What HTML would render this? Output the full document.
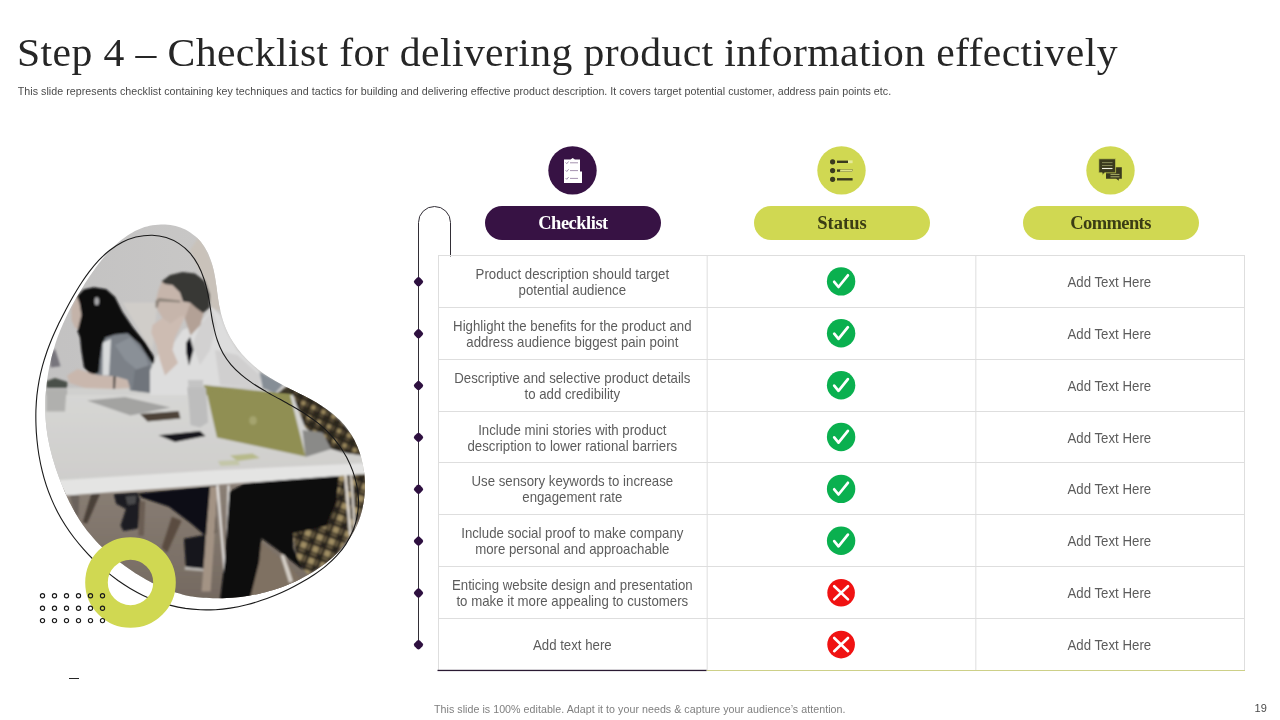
<!DOCTYPE html>
<html lang="en"><head><meta charset="utf-8"><title>Step 4 – Checklist for delivering product information effectively</title>
<style>
html,body{margin:0;padding:0;background:#fff;}
body{width:1280px;height:720px;position:relative;overflow:hidden;font-family:"Liberation Sans",Arial,sans-serif;}
.abs{position:absolute;}
#title{left:17px;top:28.8px;font-family:"Liberation Serif","DejaVu Serif",serif;font-size:39.5px;line-height:48px;color:#262626;white-space:nowrap;letter-spacing:0.37px;transform:scaleX(1.055);transform-origin:0 0;}
#sub{left:17.8px;top:84px;font-size:10.67px;line-height:14px;color:#4a4a4a;white-space:nowrap;letter-spacing:0.04px;}
.pill{height:34px;border-radius:17px;width:176px;top:206px;text-align:center;font-family:"Liberation Serif","DejaVu Serif",serif;font-weight:bold;font-size:18.5px;line-height:35px;letter-spacing:0;}
.c{font-size:14.3px;line-height:16px;color:#5c5c5c;text-align:center;white-space:nowrap;letter-spacing:0;transform:scaleX(0.926);transform-origin:50% 50%;}
#foot{left:434px;top:702px;font-size:10.67px;line-height:14px;color:#7f7f7f;white-space:nowrap;letter-spacing:0.04px;}
#pn{left:1254.6px;top:701.2px;font-size:11px;line-height:14px;color:#4a4a4a;white-space:nowrap;}
svg{position:absolute;left:0;top:0;}
</style></head><body>
<div id="title" class="abs">Step 4 – Checklist for delivering product information effectively</div>
<div id="sub" class="abs">This slide represents checklist containing key techniques and tactics for building and delivering effective product description. It covers target potential customer, address pain points etc.</div>
<svg width="1280" height="720" viewBox="0 0 1280 720">
<defs>
<clipPath id="blob"><path d="M165.1,224.4C169.0,224.5 172.2,225.1 175.6,226.0C178.9,226.8 182.0,227.9 185.3,229.6C188.7,231.4 192.7,234.2 195.6,236.6C198.4,239.0 200.5,241.5 202.5,244.2C204.6,247.0 206.2,249.7 207.9,253.1C209.5,256.6 211.2,261.3 212.3,265.0C213.4,268.7 214.0,271.9 214.7,275.4C215.4,278.9 215.8,282.2 216.4,286.1C216.9,289.9 217.5,294.9 218.1,298.7C218.7,302.6 219.2,305.7 220.0,309.1C220.7,312.5 221.4,315.6 222.6,319.2C223.7,322.9 225.4,327.4 227.0,330.9C228.5,334.4 230.1,337.1 231.8,340.1C233.6,343.1 235.4,345.8 237.8,348.9C240.1,351.9 243.4,355.7 246.0,358.5C248.7,361.4 251.1,363.5 253.7,365.8C256.4,368.1 258.9,370.1 262.0,372.4C265.1,374.6 269.3,377.3 272.5,379.3C275.8,381.3 278.6,382.8 281.7,384.5C284.8,386.2 287.6,387.6 291.1,389.4C294.5,391.1 299.0,393.3 302.4,395.1C305.9,396.8 308.8,398.3 311.9,400.0C315.0,401.7 317.8,403.3 321.1,405.4C324.3,407.5 328.4,410.3 331.4,412.7C334.4,415.1 336.8,417.2 339.2,419.6C341.7,422.1 343.8,424.3 346.1,427.3C348.5,430.4 351.2,434.4 353.1,437.7C355.0,440.9 356.3,443.8 357.6,447.0C358.9,450.3 360.0,453.2 361.0,457.0C362.0,460.7 363.1,465.6 363.7,469.5C364.3,473.4 364.6,476.6 364.8,480.2C364.9,483.7 365.0,487.0 364.8,490.9C364.6,494.8 364.1,499.8 363.4,503.6C362.8,507.4 362.1,510.4 361.1,513.8C360.2,517.1 359.2,520.1 357.7,523.5C356.2,527.0 354.0,531.3 352.1,534.6C350.1,537.8 348.3,540.4 346.2,543.1C344.0,545.8 342.0,548.3 339.3,551.0C336.6,553.8 332.9,557.2 329.9,559.7C327.0,562.3 324.4,564.2 321.4,566.3C318.5,568.4 315.8,570.2 312.5,572.3C309.1,574.3 304.8,576.7 301.4,578.5C297.9,580.3 295.0,581.6 291.9,583.0C288.7,584.4 285.8,585.6 282.2,586.9C278.6,588.2 274.0,589.7 270.3,590.8C266.7,591.9 263.7,592.6 260.3,593.4C256.9,594.1 253.8,594.8 250.0,595.4C246.1,596.0 241.2,596.7 237.3,597.2C233.5,597.6 230.2,597.9 226.7,598.1C223.1,598.2 219.9,598.4 216.0,598.3C212.0,598.3 207.1,598.1 203.2,597.8C199.3,597.5 196.2,597.1 192.7,596.5C189.3,596.0 186.2,595.4 182.5,594.4C178.8,593.5 174.2,592.1 170.6,590.8C167.0,589.6 164.1,588.4 160.9,587.0C157.8,585.6 154.9,584.2 151.5,582.4C148.1,580.6 143.8,578.2 140.5,576.2C137.1,574.2 134.4,572.4 131.5,570.4C128.5,568.4 125.9,566.6 122.7,564.3C119.6,562.0 115.6,558.9 112.6,556.5C109.6,554.0 107.2,551.9 104.6,549.5C102.0,547.2 99.7,545.0 97.1,542.2C94.5,539.4 91.3,535.8 88.9,532.8C86.4,529.9 84.6,527.3 82.6,524.5C80.6,521.6 78.9,519.0 76.9,515.6C75.0,512.3 72.6,508.0 70.8,504.5C69.0,501.1 67.7,498.2 66.2,494.9C64.7,491.7 63.5,488.8 62.0,485.1C60.6,481.5 58.8,476.9 57.5,473.2C56.2,469.6 55.2,466.5 54.2,463.2C53.1,459.8 52.2,456.8 51.3,453.1C50.3,449.4 49.2,444.6 48.5,440.8C47.7,437.1 47.3,434.0 46.8,430.5C46.3,427.0 46.0,423.9 45.7,420.1C45.5,416.2 45.3,411.3 45.3,407.4C45.2,403.5 45.4,400.3 45.5,396.8C45.7,393.2 46.0,390.0 46.4,386.2C46.8,382.3 47.5,377.4 48.1,373.6C48.8,369.7 49.4,366.6 50.2,363.2C50.9,359.8 51.6,356.7 52.7,353.0C53.7,349.3 55.1,344.6 56.3,341.0C57.6,337.3 58.7,334.4 60.0,331.1C61.2,327.9 62.5,325.0 64.1,321.5C65.7,318.0 67.8,313.5 69.6,310.0C71.3,306.6 72.9,303.8 74.6,300.7C76.3,297.6 77.9,294.8 80.0,291.5C82.0,288.2 84.6,284.0 86.7,280.7C88.8,277.5 90.6,274.9 92.6,272.0C94.7,269.1 96.5,266.6 98.8,263.5C101.2,260.5 104.2,256.7 106.8,253.8C109.3,250.9 111.5,248.7 114.0,246.3C116.5,243.9 118.8,241.7 121.9,239.4C125.0,237.1 129.1,234.3 132.5,232.4C135.9,230.5 138.8,229.2 142.1,228.0C145.5,226.8 148.6,225.9 152.4,225.3C156.2,224.7 161.3,224.3 165.1,224.4Z"/></clipPath>
<filter id="b2" x="-20%" y="-20%" width="140%" height="140%"><feGaussianBlur stdDeviation="4"/></filter>
<filter id="b1" x="-20%" y="-20%" width="140%" height="140%"><feGaussianBlur stdDeviation="0.6"/></filter>
<linearGradient id="wall" x1="0" y1="0" x2="1" y2="0"><stop offset="0" stop-color="#c2c1c1"/><stop offset="0.5" stop-color="#c8c7c6"/><stop offset="1" stop-color="#cbc8c4"/></linearGradient>
<linearGradient id="floor" x1="0" y1="0" x2="0" y2="1"><stop offset="0" stop-color="#8c8177"/><stop offset="1" stop-color="#72675e"/></linearGradient>
<linearGradient id="tbl" x1="0" y1="0" x2="0" y2="1"><stop offset="0" stop-color="#d6d6d4"/><stop offset="1" stop-color="#cecdcb"/></linearGradient>
<pattern id="plaid2" width="52" height="52" patternUnits="userSpaceOnUse" patternTransform="rotate(20)"><rect width="52" height="52" fill="#28221b"/><rect x="5" y="5" width="26" height="26" fill="#a08e64"/><rect x="36" y="5" width="11" height="26" fill="#6a5d42"/><rect x="5" y="36" width="26" height="11" fill="#6a5d42"/></pattern>
<pattern id="plaid" width="44" height="44" patternUnits="userSpaceOnUse" patternTransform="rotate(24)"><rect width="44" height="44" fill="#2b251d"/><rect x="6" y="6" width="18" height="18" fill="#9a875c"/><rect x="28" y="6" width="10" height="18" fill="#5a4e38"/><rect x="6" y="28" width="18" height="10" fill="#5a4e38"/></pattern>
</defs>
<g clip-path="url(#blob)">
<rect x="30" y="215" width="350" height="400" fill="url(#wall)"/>
<g transform="translate(40,220) scale(0.25)" filter="url(#b2)">
<!-- beige strip upper right -->
<path d="M640,60L700,200L730,360L690,360L660,250L600,120z" fill="#c9c2ba"/>
<!-- lighter wall between the two people -->
<path d="M330,330L470,330L450,520L420,480z" fill="#d0cdc9"/>
<path d="M40,540L60,515L82,585L42,590z" fill="#77747c"/>
<!-- table far part -->
<path d="M-40,672L700,672L1300,690V760H-40z" fill="#d0d0ce"/>
<!-- woman face -->
<path d="M125,355L150,300L175,300L170,440L140,432L126,400z" fill="#c4b3a9"/>
<!-- jacket -->
<path d="M215,480L290,452L350,452L400,497L445,560L452,610L440,692L360,682L350,640L300,625L225,622L212,560z" fill="#7b8188"/>
<path d="M300,500L360,470L420,540L440,600L400,610L340,560z" fill="#8a9097"/>
<path d="M380,600L440,580L440,690L370,682z" fill="#6f757c"/>
<path d="M252,490L284,476L276,622L250,622z" fill="#d8dadb"/>
<!-- woman hair -->
<path d="M148,305L175,278L215,269L265,277L300,308L330,368L372,430L422,490L456,548L460,588L440,560L400,498L350,453L300,458L262,470L248,500L240,560L236,610L206,622L176,590L165,520L160,470L150,445L166,380L158,332z" fill="#0c0c0e"/>
<ellipse cx="227" cy="325" rx="9" ry="16" fill="#a9a9ab"/>
<!-- woman arm -->
<path d="M108,622L150,596L225,620L300,626L350,640L360,672L300,676L180,672L118,652z" fill="#c9b7ad"/>
<path d="M294,625L302,625L300,675L293,675z" fill="#2a2a2a"/>
<!-- shirt -->
<path d="M440,602L470,540L530,500L570,440L640,410L690,350L722,380L750,450L790,520L850,580L892,620L892,672L660,662L650,760L440,760z" fill="#dddddd"/>
<path d="M640,420L690,360L705,420L680,520L640,580L610,500z" fill="#d2d1d1"/>
<path d="M700,520L790,540L880,620L880,670L720,660z" fill="#d0cfcf"/>
<!-- other person denim -->
<path d="M878,608L972,656L940,694L890,672z" fill="#868e96"/>
<!-- man neck -->
<path d="M575,380L600,330L655,368L642,420L602,462z" fill="#b3a196"/>
<!-- man face -->
<path d="M488,245L530,258L560,290L572,325L602,330L584,382L560,410L520,416L490,392L470,360L464,320L474,280z" fill="#c6b5ab"/>
<!-- man hair -->
<path d="M486,246L520,220L570,208L620,214L660,244L680,300L679,350L652,372L625,352L600,330L572,326L560,290L530,260L500,256z" fill="#383836"/>
<!-- glasses -->
<path d="M462,325L475,312L560,322L562,330L478,326L470,352L462,350z" fill="#8f857c"/>
<!-- hand/arm -->
<path d="M450,420L490,392L520,416L560,386L582,382L560,430L540,470L530,520L552,572L500,622L480,560L465,500L445,450z" fill="#cdbcb2"/>
<!-- tie -->
<path d="M584,492L600,468L614,520L596,582L585,532z" fill="#101012"/>
<!-- plaid top -->
<path d="M950,692L992,664L1120,740L960,740z" fill="#3a3428"/>
<!-- bottle -->
<path d="M592,640L652,640L655,760L596,760z" fill="#c4c4c4"/>
<!-- green laptop top -->
<path d="M655,660L1012,700L1020,760L665,760z" fill="#908f53"/>
<!-- plant -->
<path d="M25,645L60,632L110,648L108,672L25,672z" fill="#4a4f48"/>
<path d="M25,672L108,672L104,760L25,760z" fill="#b4b4b2"/>
<!-- gray laptop top part -->
<path d="M190,720L340,708L450,735L300,760z" fill="#a3a3a1"/>
</g>
<g transform="translate(40,390) scale(0.25)" filter="url(#b2)">
<!-- table surface -->
<path d="M-40,20H1320V300L100,385L-40,385z" fill="url(#tbl)"/>
<!-- under table floor -->
<path d="M-40,400L1320,320V900H-40z" fill="url(#floor)"/>
<!-- pot -->
<path d="M25,0L106,0L100,86L25,86z" fill="#b0b0ae"/>
<!-- gray laptop -->
<path d="M188,42L340,28L522,70L362,102z" fill="#a3a3a1"/>
<path d="M400,96L555,84L562,114L430,126z" fill="#4d4238"/>
<!-- phone -->
<path d="M474,181L640,164L662,184L540,208z" fill="#18181a"/>
<!-- bottle -->
<path d="M590,-10L664,-10L672,130L640,150L602,140z" fill="#bdbdbd"/>
<!-- sticky notes -->
<path d="M760,262L850,254L880,272L790,284z" fill="#b7ba8a"/>
<path d="M712,284L790,280L800,300L722,304z" fill="#c3c6a8"/>
<!-- plaid shirt -->
<path d="M1000,-10L1100,28L1200,118L1272,200L1290,262L1220,252L1165,236L1060,150z" fill="url(#plaid)"/>
<path d="M1050,160L1130,170L1165,236L1062,268z" fill="#8a8a88"/>
<!-- green laptop -->
<path d="M664,-4L1000,18L1062,266L708,190z" fill="#908f53"/>
<ellipse cx="852" cy="122" rx="15" ry="17" fill="#a5a46e"/>
</g>
<g transform="translate(60,465) scale(0.24219)" filter="url(#b2)">
<!-- floor darker lower -->
<!-- chair legs dark -->
<path d="M130,118L166,118L112,242L94,236z" fill="#4a3f37"/>
<path d="M40,125L80,122L76,215L60,200z" fill="#6b625b"/>
<!-- left person pants -->
<path d="M320,118L650,84L642,282L600,292L540,240L450,172L340,135z" fill="#101013"/>
<!-- shoe 1 -->
<path d="M222,120L320,114L332,150L322,262L262,272L250,250L272,182L232,160z" fill="#1d1d20"/>
<path d="M270,130L315,126L312,160L280,165z" fill="#4a4a4c"/>
<path d="M328,150L352,150L346,292L324,292z" fill="#6a5d52"/>
<!-- wooden chair leg -->
<path d="M462,214L502,230L442,362L420,342z" fill="#5a4c40"/>
<!-- shoe 2 -->
<path d="M512,305L600,288L602,432L520,422z" fill="#17171a"/>
<path d="M515,420L600,428L600,440L515,432z" fill="#b9b6b2"/>
<!-- light wood leg -->
<path d="M620,88L652,88L622,522L584,522z" fill="#a39384"/>
<!-- white thin legs -->
<path d="M645,84L656,84L686,452L676,452z" fill="#e2e0de"/>
<path d="M690,84L702,84L694,300L686,300z" fill="#d2d0ce"/>
<!-- floor between -->
<path d="M830,320L950,420L1010,490L780,548L810,400z" fill="#7f7162"/>
<path d="M910,372L926,370L962,480L946,486z" fill="#d4cec6"/>
<!-- plaid -->
<path d="M1150,38L1270,28L1262,150L1205,282L1122,392L1022,452L982,402L962,282L1100,250L1140,150z" fill="url(#plaid2)"/>
<!-- right person pants -->
<path d="M700,110L760,76L1152,38L1142,150L1102,252L962,282L962,342L1002,432L900,352L832,302L822,402L782,560L660,560L680,400L690,250z" fill="#0b0b0d"/>
<!-- white legs right -->
<path d="M1172,34L1184,34L1206,290L1194,292z" fill="#dcd6ce"/>
<path d="M1196,32L1206,32L1222,260L1212,262z" fill="#d0cac2"/>
<!-- table front edge -->
<path d="M-60,66L640,22L1300,-10V34L650,82L30,126L-60,130z" fill="#e4e4e3"/>
</g>
</g>
<path d="M152.2,235.2C157.2,235.3 161.7,236.1 166.2,237.5C170.6,238.9 175.0,241.0 179.0,243.6C182.9,246.1 186.6,249.3 189.8,252.9C193.0,256.5 195.8,260.7 198.1,265.0C200.5,269.4 202.4,274.2 204.0,279.0C205.6,283.9 206.8,289.1 207.9,294.1C209.0,299.2 209.7,304.5 210.6,309.5C211.4,314.6 212.0,319.4 213.2,324.5C214.3,329.7 215.7,335.7 217.4,340.5C219.0,345.3 220.8,349.2 223.0,353.2C225.3,357.2 227.9,361.0 230.9,364.6C233.9,368.1 237.4,371.5 241.1,374.6C244.8,377.8 248.8,380.7 253.0,383.6C257.2,386.4 261.7,389.0 266.1,391.6C270.5,394.2 275.1,396.6 279.6,399.1C284.1,401.6 288.6,404.0 292.9,406.5C297.3,409.0 301.3,411.3 305.6,414.2C310.0,417.1 315.0,420.7 319.0,423.9C322.9,427.2 326.2,430.2 329.5,433.7C332.8,437.1 335.9,440.8 338.7,444.7C341.6,448.7 344.2,452.9 346.6,457.2C348.9,461.6 351.0,466.2 352.7,470.9C354.4,475.6 355.9,480.6 356.8,485.5C357.8,490.4 358.4,495.5 358.5,500.4C358.6,505.4 358.2,510.4 357.4,515.2C356.6,520.0 355.5,524.5 353.6,529.3C351.6,534.1 348.7,539.7 345.9,544.1C343.1,548.5 340.2,552.0 336.8,555.6C333.5,559.3 329.8,562.6 326.0,565.8C322.2,569.0 318.1,571.9 314.0,574.7C309.9,577.5 305.6,580.1 301.2,582.5C296.9,585.0 292.5,587.3 288.1,589.4C283.6,591.6 279.1,593.6 274.6,595.4C270.0,597.3 265.5,599.0 260.8,600.5C256.2,602.1 251.8,603.5 246.7,604.7C241.6,606.0 235.4,607.3 230.2,608.1C225.0,608.9 220.3,609.4 215.4,609.7C210.4,609.9 205.4,610.0 200.4,609.8C195.4,609.5 190.4,609.1 185.4,608.4C180.5,607.6 175.6,606.6 170.8,605.4C166.0,604.2 161.3,602.7 156.6,601.1C152.0,599.4 147.5,597.5 143.1,595.4C138.7,593.3 134.4,591.0 130.2,588.5C126.1,586.0 122.3,583.5 118.0,580.5C113.8,577.4 108.8,573.5 104.8,570.1C100.7,566.7 97.3,563.5 93.8,560.0C90.2,556.5 86.8,552.9 83.5,549.1C80.2,545.4 77.0,541.5 73.9,537.5C70.9,533.5 68.0,529.4 65.3,525.2C62.7,521.1 60.1,516.8 57.8,512.4C55.5,508.1 53.4,503.6 51.5,499.1C49.6,494.6 47.8,490.1 46.3,485.4C44.8,480.8 43.5,476.5 42.3,471.4C41.0,466.3 39.8,460.2 38.9,455.0C38.0,449.8 37.5,445.2 37.0,440.3C36.5,435.3 36.1,430.4 36.0,425.4C35.8,420.4 35.8,415.4 35.9,410.4C36.1,405.4 36.4,400.3 36.9,395.4C37.5,390.4 38.2,385.5 39.1,380.6C40.0,375.7 41.1,370.9 42.4,366.1C43.7,361.3 45.2,356.7 46.8,352.0C48.4,347.4 50.1,343.2 52.1,338.3C54.1,333.5 56.8,327.8 59.0,323.1C61.3,318.4 63.4,314.4 65.7,310.0C68.0,305.7 70.4,301.3 72.8,297.1C75.3,292.8 77.8,288.5 80.5,284.3C83.3,280.1 86.0,275.9 89.1,271.9C92.1,268.0 95.3,264.0 98.7,260.4C102.2,256.8 105.9,253.3 109.8,250.3C113.7,247.3 117.9,244.5 122.2,242.3C126.6,240.1 130.9,238.2 135.8,237.0C140.8,235.9 147.1,235.1 152.2,235.2Z" fill="none" stroke="#1a1a1a" stroke-width="1.1"/>
<circle cx="130.5" cy="582.5" r="34" fill="none" stroke="#d0d852" stroke-width="22.6"/>
<circle cx="42.5" cy="595.7" r="2.1" fill="none" stroke="#1a1a1a" stroke-width="1.15"/>
<circle cx="54.5" cy="595.7" r="2.1" fill="none" stroke="#1a1a1a" stroke-width="1.15"/>
<circle cx="66.5" cy="595.7" r="2.1" fill="none" stroke="#1a1a1a" stroke-width="1.15"/>
<circle cx="78.5" cy="595.7" r="2.1" fill="none" stroke="#1a1a1a" stroke-width="1.15"/>
<circle cx="90.5" cy="595.7" r="2.1" fill="none" stroke="#1a1a1a" stroke-width="1.15"/>
<circle cx="102.5" cy="595.7" r="2.1" fill="none" stroke="#1a1a1a" stroke-width="1.15"/>
<circle cx="42.5" cy="608.2" r="2.1" fill="none" stroke="#1a1a1a" stroke-width="1.15"/>
<circle cx="54.5" cy="608.2" r="2.1" fill="none" stroke="#1a1a1a" stroke-width="1.15"/>
<circle cx="66.5" cy="608.2" r="2.1" fill="none" stroke="#1a1a1a" stroke-width="1.15"/>
<circle cx="78.5" cy="608.2" r="2.1" fill="none" stroke="#1a1a1a" stroke-width="1.15"/>
<circle cx="90.5" cy="608.2" r="2.1" fill="none" stroke="#1a1a1a" stroke-width="1.15"/>
<circle cx="102.5" cy="608.2" r="2.1" fill="none" stroke="#1a1a1a" stroke-width="1.15"/>
<circle cx="42.5" cy="620.6" r="2.1" fill="none" stroke="#1a1a1a" stroke-width="1.15"/>
<circle cx="54.5" cy="620.6" r="2.1" fill="none" stroke="#1a1a1a" stroke-width="1.15"/>
<circle cx="66.5" cy="620.6" r="2.1" fill="none" stroke="#1a1a1a" stroke-width="1.15"/>
<circle cx="78.5" cy="620.6" r="2.1" fill="none" stroke="#1a1a1a" stroke-width="1.15"/>
<circle cx="90.5" cy="620.6" r="2.1" fill="none" stroke="#1a1a1a" stroke-width="1.15"/>
<circle cx="102.5" cy="620.6" r="2.1" fill="none" stroke="#1a1a1a" stroke-width="1.15"/>
<rect x="69" y="678" width="10" height="1" fill="#262626"/>
<path d="M418.5,647V222.5a16,16 0 0 1 32,0V256.5" fill="none" stroke="#322e36" stroke-width="1"/>
<rect x="-3.9" y="-3.9" width="7.8" height="7.8" rx="2.2" fill="#2e1040" transform="translate(418.5 281.8) rotate(45)"/>
<rect x="-3.9" y="-3.9" width="7.8" height="7.8" rx="2.2" fill="#2e1040" transform="translate(418.5 333.7) rotate(45)"/>
<rect x="-3.9" y="-3.9" width="7.8" height="7.8" rx="2.2" fill="#2e1040" transform="translate(418.5 385.6) rotate(45)"/>
<rect x="-3.9" y="-3.9" width="7.8" height="7.8" rx="2.2" fill="#2e1040" transform="translate(418.5 437.4) rotate(45)"/>
<rect x="-3.9" y="-3.9" width="7.8" height="7.8" rx="2.2" fill="#2e1040" transform="translate(418.5 489.3) rotate(45)"/>
<rect x="-3.9" y="-3.9" width="7.8" height="7.8" rx="2.2" fill="#2e1040" transform="translate(418.5 541.1) rotate(45)"/>
<rect x="-3.9" y="-3.9" width="7.8" height="7.8" rx="2.2" fill="#2e1040" transform="translate(418.5 593.0) rotate(45)"/>
<rect x="-3.9" y="-3.9" width="7.8" height="7.8" rx="2.2" fill="#2e1040" transform="translate(418.5 644.8) rotate(45)"/>
<rect x="438.0" y="255" width="807.00" height="1" fill="#dedede"/>
<rect x="438.0" y="307" width="807.00" height="1" fill="#dedede"/>
<rect x="438.0" y="359" width="807.00" height="1" fill="#dedede"/>
<rect x="438.0" y="411" width="807.00" height="1" fill="#dedede"/>
<rect x="438.0" y="462" width="807.00" height="1" fill="#dedede"/>
<rect x="438.0" y="514" width="807.00" height="1" fill="#dedede"/>
<rect x="438.0" y="566" width="807.00" height="1" fill="#dedede"/>
<rect x="438.0" y="618" width="807.00" height="1" fill="#dedede"/>
<rect x="438.00" y="255.0" width="1" height="415.0" fill="#dedede"/>
<rect x="706.67" y="255.0" width="1" height="415.0" fill="#dedede"/>
<rect x="975.33" y="255.0" width="1" height="415.0" fill="#dedede"/>
<rect x="1244.00" y="255.0" width="1" height="415.0" fill="#dedede"/>
<rect x="437.5" y="669.8" width="269.17" height="1.3" fill="#2a1a33"/>
<rect x="706.67" y="670" width="538.33" height="1" fill="#cdd088"/>
<circle cx="572.5" cy="170.4" r="24.2" fill="#371244"/>
<circle cx="841.5" cy="170.4" r="24.2" fill="#d0d852"/>
<circle cx="1110.5" cy="170.4" r="24.2" fill="#d0d852"/>
<g fill="#fff"><path d="M564,159.5h6.5l2.2,-1.4l2.2,1.4h5.1v12h2v11.5h-18z"/></g>
<g stroke="#9a86a6" stroke-width="0.9" fill="none"><path d="M570,162.8h8M570,170.6h8M570,178.4h8"/><path d="M565.6,162.4l1.2,1.3l1.8,-2.2M565.6,170.2l1.2,1.3l1.8,-2.2M565.6,178l1.2,1.3l1.8,-2.2"/></g>
<circle cx="832.6" cy="161.8" r="2.6" fill="#3a3a1e"/>
<circle cx="832.6" cy="170.6" r="2.6" fill="#3a3a1e"/>
<circle cx="832.6" cy="179.3" r="2.6" fill="#3a3a1e"/>
<rect x="837" y="160.6" width="11" height="2.4" fill="#3a3a1e"/><rect x="848" y="160.4" width="4.6" height="2.8" fill="#e6ea9c"/>
<rect x="837" y="169.4" width="3" height="2.4" fill="#3a3a1e"/><rect x="840" y="169.6" width="12.6" height="2" fill="#dfe48a" stroke="#3a3a1e" stroke-width="0.3"/>
<rect x="837" y="178.1" width="15.6" height="2.4" fill="#3a3a1e"/>
<path d="M1106,167.2h15.8v11.6h-3v2l-2.6,-2h-10.2z" fill="#3a3a1e"/>
<path d="M1098.8,158.8h16.8v14h-10.8l-2.6,2.4v-2.4h-3.4z" fill="#3a3a1e" stroke="#d0d852" stroke-width="0.7"/>
<g stroke="#8b8f5c" stroke-width="0.9"><path d="M1102,162.6h10.5M1102,165.5h10.5"/><path d="M1110.5,174.4h9M1110.5,176.8h9" stroke="#b9be72"/></g><path d="M1102,168.5h10.5" stroke="#f2f2e2" stroke-width="1.1"/>
<circle cx="841.1" cy="281.4" r="14.2" fill="#0ab04f"/><path d="M834.2,281.8L838.5,287.0L847.9,275.3" fill="none" stroke="#fff" stroke-width="2.7" stroke-linejoin="round" stroke-linecap="round"/>
<circle cx="841.1" cy="333.3" r="14.2" fill="#0ab04f"/><path d="M834.2,333.7L838.5,338.9L847.9,327.2" fill="none" stroke="#fff" stroke-width="2.7" stroke-linejoin="round" stroke-linecap="round"/>
<circle cx="841.1" cy="385.2" r="14.2" fill="#0ab04f"/><path d="M834.2,385.6L838.5,390.8L847.9,379.1" fill="none" stroke="#fff" stroke-width="2.7" stroke-linejoin="round" stroke-linecap="round"/>
<circle cx="841.1" cy="437.0" r="14.2" fill="#0ab04f"/><path d="M834.2,437.4L838.5,442.6L847.9,430.9" fill="none" stroke="#fff" stroke-width="2.7" stroke-linejoin="round" stroke-linecap="round"/>
<circle cx="841.1" cy="488.9" r="14.2" fill="#0ab04f"/><path d="M834.2,489.3L838.5,494.5L847.9,482.8" fill="none" stroke="#fff" stroke-width="2.7" stroke-linejoin="round" stroke-linecap="round"/>
<circle cx="841.1" cy="540.7" r="14.2" fill="#0ab04f"/><path d="M834.2,541.1L838.5,546.3L847.9,534.6" fill="none" stroke="#fff" stroke-width="2.7" stroke-linejoin="round" stroke-linecap="round"/>
<circle cx="841.1" cy="592.8" r="13.8" fill="#f01212"/><path d="M834.2,586.2l13.8,13.2M848.0,586.2l-13.8,13.2" fill="none" stroke="#fff" stroke-width="2.6" stroke-linecap="round"/>
<circle cx="841.1" cy="644.6" r="13.8" fill="#f01212"/><path d="M834.2,638.0l13.8,13.2M848.0,638.0l-13.8,13.2" fill="none" stroke="#fff" stroke-width="2.6" stroke-linecap="round"/>
</svg>
<div class="abs pill" style="left:485px;background:#371244;color:#fff;letter-spacing:-0.5px;">Checklist</div>
<div class="abs pill" style="left:754px;background:#d0d852;color:#3b3d14;">Status</div>
<div class="abs pill" style="left:1022.5px;background:#d0d852;color:#3b3d14;letter-spacing:-0.6px;">Comments</div>
<div class="abs c" style="left:438.20px;width:268.67px;top:265.9px;">Product description should target<br>potential audience</div>
<div class="abs c" style="left:974.53px;width:268.67px;top:273.9px;">Add Text Here</div>
<div class="abs c" style="left:438.20px;width:268.67px;top:317.8px;">Highlight the benefits for the product and<br>address audience biggest pain point</div>
<div class="abs c" style="left:974.53px;width:268.67px;top:325.8px;">Add Text Here</div>
<div class="abs c" style="left:438.20px;width:268.67px;top:369.7px;">Descriptive and selective product details<br>to add credibility</div>
<div class="abs c" style="left:974.53px;width:268.67px;top:377.7px;">Add Text Here</div>
<div class="abs c" style="left:438.20px;width:268.67px;top:421.5px;">Include mini stories with product<br>description to lower rational barriers</div>
<div class="abs c" style="left:974.53px;width:268.67px;top:429.5px;">Add Text Here</div>
<div class="abs c" style="left:438.20px;width:268.67px;top:473.4px;">Use sensory keywords to increase<br>engagement rate</div>
<div class="abs c" style="left:974.53px;width:268.67px;top:481.4px;">Add Text Here</div>
<div class="abs c" style="left:438.20px;width:268.67px;top:525.2px;">Include social proof to make company<br>more personal and approachable</div>
<div class="abs c" style="left:974.53px;width:268.67px;top:533.2px;">Add Text Here</div>
<div class="abs c" style="left:438.20px;width:268.67px;top:577.1px;">Enticing website design and presentation<br>to make it more appealing to customers</div>
<div class="abs c" style="left:974.53px;width:268.67px;top:585.1px;">Add Text Here</div>
<div class="abs c" style="left:438.20px;width:268.67px;top:636.9px;">Add text here</div>
<div class="abs c" style="left:974.53px;width:268.67px;top:636.9px;">Add Text Here</div>
<div id="foot" class="abs">This slide is 100% editable. Adapt it to your needs &amp; capture your audience’s attention.</div>
<div id="pn" class="abs">19</div>
</body></html>
